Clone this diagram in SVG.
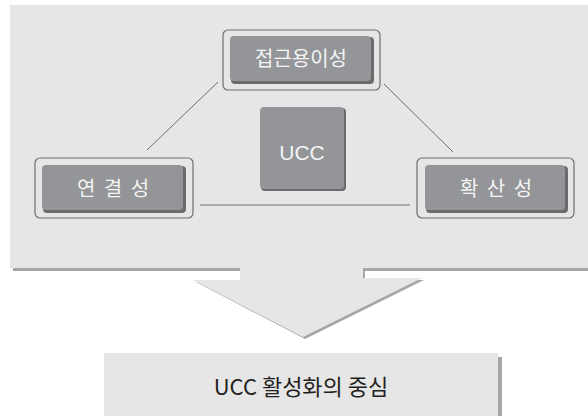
<svg xmlns="http://www.w3.org/2000/svg" width="588" height="416" viewBox="0 0 588 416">
<style>
.outer{fill:none;stroke:#6d6e71;stroke-width:1.2}
.shadow{fill:#6a6b6d}
.inner{fill:#939598}
.lbl{font-family:"Noto Sans CJK KR","Liberation Sans",sans-serif;font-size:20px;fill:#f4f4f4;text-anchor:middle}
.conn{stroke:#6d6e71;stroke-width:1;fill:none}
</style>
<rect width="588" height="416" fill="#ffffff"/>
<g id="panel">
<rect x="13" y="8" width="580" height="263" fill="#a5a6a8"/>
<rect x="10" y="5" width="580" height="263" fill="#e6e6e7"/>
</g>
<g id="arrow">
<polygon points="242,268 365,268 365,280 424,280 305,339 196,282 242,282" fill="#a5a6a8"/>
<polygon points="240,266 363,266 363,278 422,278 303,337 193,280 240,280" fill="#e6e6e7"/>
</g>
<g id="connectors">
<line class="conn" x1="218" y1="82" x2="147" y2="150"/>
<line class="conn" x1="384" y1="84" x2="453" y2="152"/>
<line class="conn" x1="200" y1="205" x2="410" y2="205"/>
</g>
<g id="node-top">
<rect class="outer" x="223" y="30" width="157" height="60" rx="5"/>
<rect class="shadow" x="231" y="37" width="143" height="47" rx="4"/>
<rect class="inner" x="230" y="36" width="141" height="45" rx="4"/>
<text class="lbl" x="301" y="66">접근용이성</text>
</g>
<g id="node-left">
<rect class="outer" x="35" y="158" width="158" height="60" rx="5"/>
<rect class="shadow" x="43" y="166" width="143" height="47" rx="4"/>
<rect class="inner" x="42" y="165" width="141" height="45" rx="4"/>
<text class="lbl" x="114" y="196" letter-spacing="2">연 결 성</text>
</g>
<g id="node-right">
<rect class="outer" x="417" y="158" width="157" height="60" rx="5"/>
<rect class="shadow" x="426" y="166" width="142" height="47" rx="4"/>
<rect class="inner" x="425" y="165" width="140" height="45" rx="4"/>
<text class="lbl" x="497" y="196" letter-spacing="2">확 산 성</text>
</g>
<g id="node-ucc">
<rect class="shadow" x="261" y="108" width="85" height="83" rx="4"/>
<rect class="inner" x="260" y="107" width="84" height="82" rx="4"/>
<text x="302" y="160" font-family="Liberation Sans,sans-serif" font-size="21" fill="#f4f4f4" text-anchor="middle">UCC</text>
</g>
<g id="node-bottom">
<rect x="108" y="357" width="394" height="62" fill="#a5a6a8"/>
<rect x="104" y="353" width="394" height="66" fill="#e6e6e7"/>
<text x="301" y="395" font-family="Noto Sans CJK KR,Liberation Sans,sans-serif" font-size="22" fill="#231f20" text-anchor="middle">UCC 활성화의 중심</text>
</g>
</svg>
